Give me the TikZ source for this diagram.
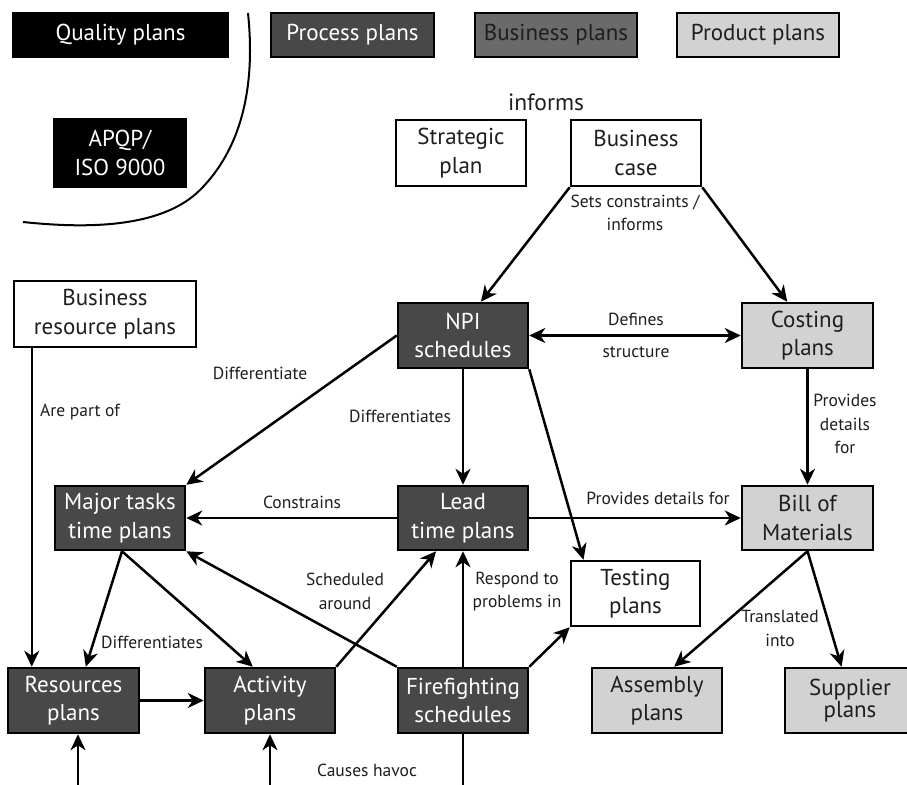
\documentclass[tikz,border=0pt]{standalone}
\usepackage{fontspec}
\setmainfont{PT Sans}
\usetikzlibrary{arrows.meta}
\definecolor{darkbox}{HTML}{484848}
\definecolor{midbox}{HTML}{6A6A6A}
\definecolor{lightbox}{HTML}{D2D2D2}
\definecolor{txt}{HTML}{1E1E1E}
\tikzset{
  box/.style={draw=black, line width=2.5pt, inner sep=0pt, align=center,
    font=\fontsize{23}{28.5}\selectfont, text=txt},
  blackbox/.style={box, fill=black, draw=black, text=white},
  procbox/.style={box, fill=darkbox, text=white},
  bizbox/.style={box, fill=midbox},
  prodbox/.style={box, fill=lightbox},
  whitebox/.style={box, fill=white},
  lbl/.style={font=\fontsize{17.5}{23.5}\selectfont, text=txt, align=center, inner sep=0pt},
  conn/.style={line width=2.5pt, draw=black},
  arr/.style={conn, -{Stealth[length=16pt,width=15pt,inset=5pt]}},
  darr/.style={conn, {Stealth[length=16pt,width=15pt,inset=5pt]}-{Stealth[length=16pt,width=15pt,inset=5pt]}},
}
\begin{document}
\begin{tikzpicture}[x=1pt,y=-1pt]
\useasboundingbox (0,0) rectangle (907,784);
\clip (0,0) rectangle (907,784);
\fill[white] (0,0) rectangle (907,784);

% legend
\node[blackbox, minimum width=215pt, minimum height=44pt] (quality) at (120.5,35) {Quality plans};
\node[procbox, minimum width=163pt, minimum height=44pt] (process) at (352.5,35) {Process plans};
\node[bizbox, minimum width=162pt, minimum height=44pt] (bizplans) at (556,35) {Business plans};
\node[prodbox, minimum width=162pt, minimum height=44pt] (prodplans) at (758,35) {Product plans};

% arc
\draw[line width=2pt] (248,13) .. controls (256,90) and (240,150) .. (200,190)
   .. controls (160,230) and (80,228) .. (23,222);

\node[blackbox, minimum width=132pt, minimum height=68pt] (apqp) at (120,153) {APQP/\\ISO 9000};

\node[lbl, font=\fontsize{23.5}{28}\selectfont] (informs) at (546,102) {informs};
\node[whitebox, minimum width=130pt, minimum height=66pt] (strategic) at (461,153) {Strategic\\plan};
\node[whitebox, minimum width=130pt, minimum height=66pt] (bizcase) at (636,153) {Business\\case};
\node[lbl] (setscons) at (635,213) {Sets constraints /\\informs};

\node[whitebox, minimum width=182pt, minimum height=66pt] (bizres) at (105,314) {Business\\resource plans};
\node[procbox, minimum width=130pt, minimum height=65pt] (npi) at (463,335.5) {NPI\\schedules};
\node[prodbox, minimum width=131pt, minimum height=65pt] (costing) at (807.5,335.5) {Costing\\plans};

\node[procbox, minimum width=130pt, minimum height=64pt] (major) at (120,518) {Major tasks\\time plans};
\node[procbox, minimum width=130pt, minimum height=64pt] (lead) at (463,518) {Lead\\time plans};
\node[prodbox, minimum width=131pt, minimum height=64pt] (bom) at (807.5,518) {Bill of\\Materials};

\node[whitebox, minimum width=129pt, minimum height=65pt] (testing) at (635.5,593.5) {Testing\\plans};

\node[procbox, minimum width=131pt, minimum height=65pt] (resources) at (73.5,700.5) {Resources\\plans};
\node[procbox, minimum width=130pt, minimum height=65pt] (activity) at (270,700.5) {Activity\\plans};
\node[procbox, minimum width=130pt, minimum height=65pt] (fire) at (463,700.5) {Firefighting\\schedules};
\node[prodbox, minimum width=130pt, minimum height=65pt] (assembly) at (657,700.5) {Assembly\\plans};
\node[prodbox, minimum width=130pt, minimum height=65pt, font=\fontsize{23}{22}\selectfont] (supplier) at (850,700.5) {Supplier\\plans};

% labels
\node[lbl] (ldefines) at (636,319) {Defines};
\node[lbl] (lstructure) at (636,352) {structure};
\node[lbl] (ldiff1) at (260,373) {Differentiate};
\node[lbl] (ldiff2) at (400,416) {Differentiates};
\node[lbl] (lpartof) at (80,412) {Are part of};
\node[lbl] (lprov1) at (845,424) {Provides\\details\\for};
\node[lbl] (lconstr) at (302,502) {Constrains};
\node[lbl] (lprov2) at (658,498) {Provides details for};
\node[lbl] (lsched) at (345,591.5) {Scheduled\\around};
\node[lbl] (lrespond) at (517,591.5) {Respond to\\problems in};
\node[lbl] (ldiff3) at (152,642) {Differentiates};
\node[lbl] (ltrans) at (780,628.5) {Translated\\into};
\node[lbl] (lhavoc) at (367,770) {Causes havoc};

% free ends at the bottom edge
\coordinate (bres) at (78,790);
\coordinate (bact) at (270,790);
\coordinate (bfire) at (463,790);

% connectors
\draw[arr] (bizcase.south west) -- (npi.62);
\draw[arr] (bizcase.south east) -- (costing.121);
\draw[darr] (npi.east) -- (costing.west);
\draw[arr] (npi.west) -- (major.north east);
\draw[arr] (npi.south) -- (lead.north);
\draw[arr] (npi.south east) -- (testing.147);
\draw[arr] (costing.south) -- (bom.north);
\draw[arr] (lead.west) -- (major.east);
\draw[arr] (lead.east) -- (bom.west);
\draw[arr] ([xshift=19pt]bizres.south west) -- ([xshift=25pt]resources.north west);
\draw[arr] ([xshift=2pt]major.south) -- (resources.70.5);
\draw[arr] ([xshift=2pt]major.south) -- (activity.117.6);
\draw[arr] (resources.east) -- (activity.west);
\draw[arr] (activity.north east) -- (lead.231);
\draw[arr] (fire.north west) -- (major.south east);
\draw[arr] (fire.north) -- (lead.south);
\draw[arr] (fire.north east) -- (testing.south west);
\draw[arr] (bom.south) -- (assembly.63.8);
\draw[arr] (bom.south) -- (supplier.104);
\draw[arr] (bres) -- ([xshift=4.5pt]resources.south);
\draw[arr] (bact) -- (activity.south);
\draw[conn] (fire.south) -- (bfire);
\end{tikzpicture}
\end{document}
